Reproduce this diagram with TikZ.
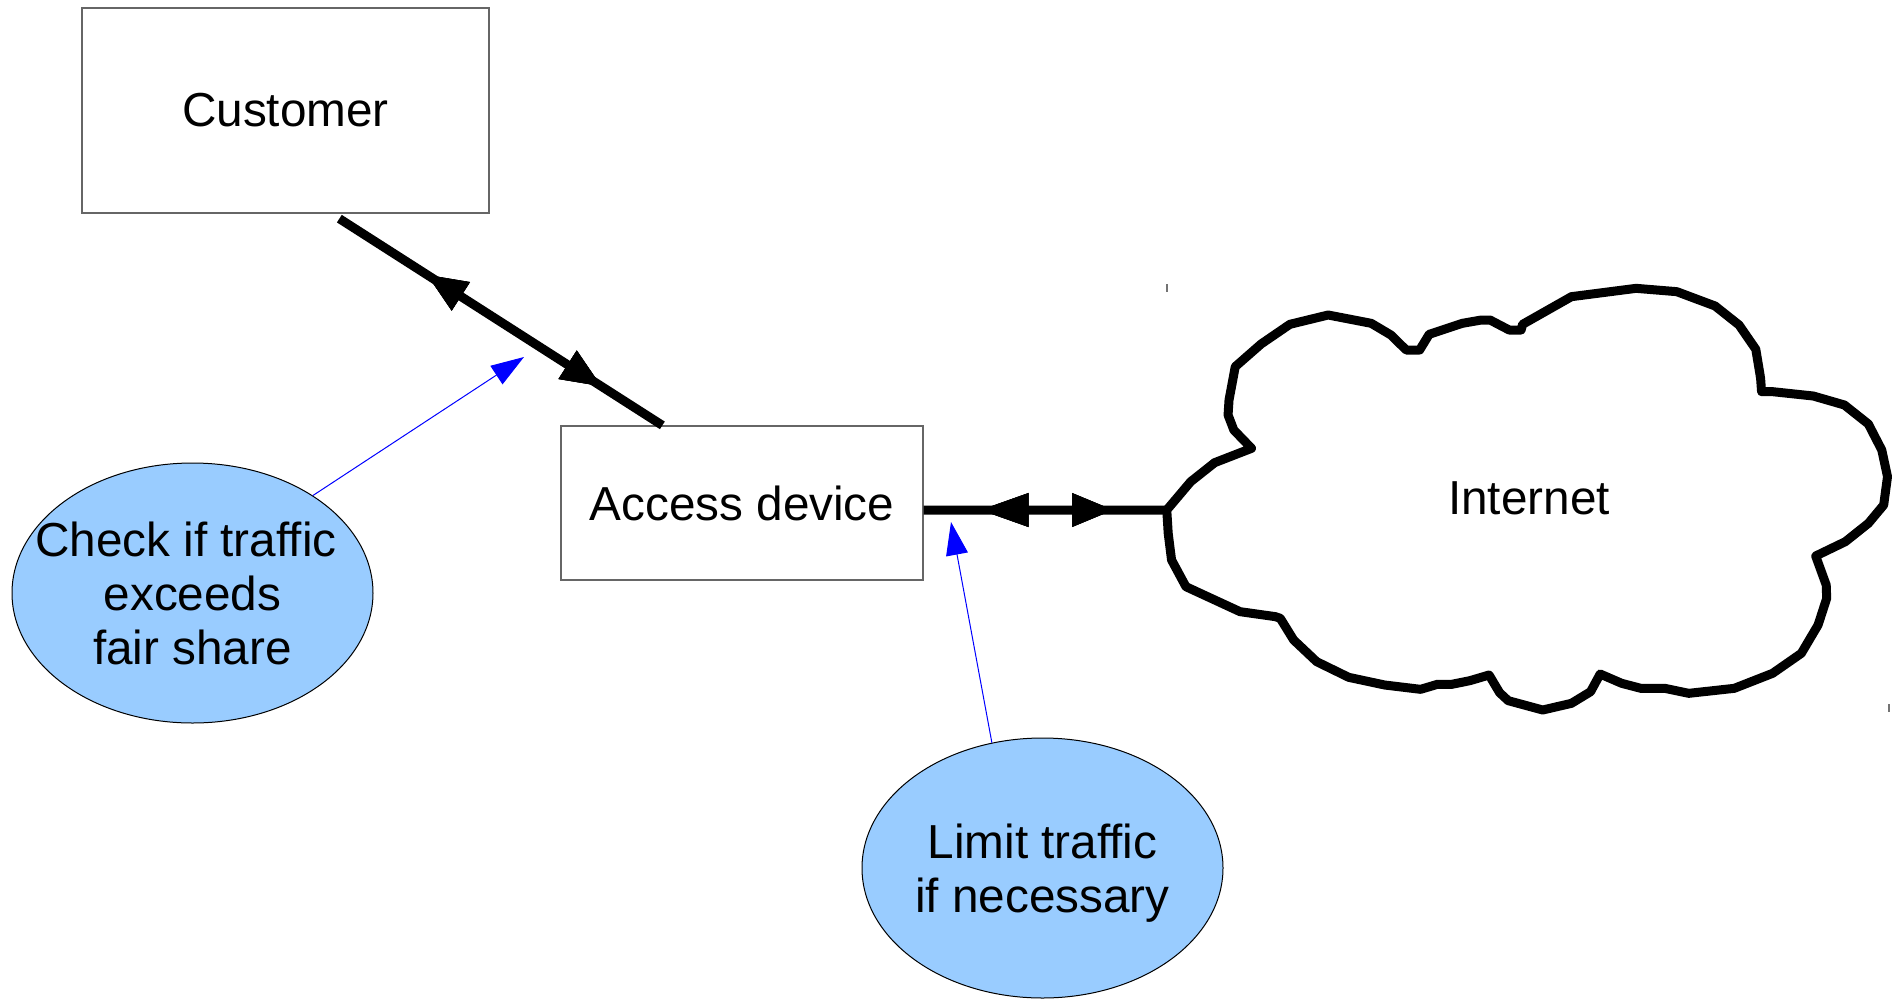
\documentclass[tikz,border=0pt]{standalone}
\usepackage{fontspec}
\setmainfont{Liberation Sans}
\usetikzlibrary{arrows.meta,decorations.markings,shapes.geometric}
\definecolor{bubble}{HTML}{99CCFF}
\definecolor{note}{RGB}{0,0,255}
\begin{document}
\begin{tikzpicture}[x=1pt,y=-1pt,
  every node/.style={font=\fontsize{47.7pt}{54pt}\selectfont, inner sep=0pt},
  boxnode/.style={draw=black!60, line width=1.3pt, rectangle},
  bubblenode/.style={draw=black, line width=1pt, fill=bubble, ellipse,
    inner xsep=-50pt, inner ysep=-30pt,
    minimum width=361pt, minimum height=260pt, align=center, text depth=0pt},
  thick link/.style={line width=9pt},
  note link/.style={draw=note, line width=1pt,
    -{Triangle[length=33pt,width=22pt]}, note},
  headfwd/.style 2 args={postaction={decorate}, decoration={markings,
    mark=at position #1 with {\arrow{Triangle[length=#2,width=34pt,line width=0.5pt]}}}},
  headback/.style 2 args={postaction={decorate}, decoration={markings,
    mark=at position #1 with {\arrowreversed{Triangle[length=#2,width=34pt,line width=0.5pt]}}}},
]
\useasboundingbox (0,0) rectangle (1901,999);

% boxes
\node[boxnode, minimum width=407pt, minimum height=205pt] (cust) at (285.5,110.5) {Customer};
\node[boxnode, minimum width=362pt, minimum height=154pt] (acc) at (742,503) {Access device};

% cloud outline
\begin{scope}[shift={(1150,270)}, xscale=0.4789, yscale=1/3]
  \draw[line width=9pt, line join=round, fill=white]
    (35,720) -- (85,635) -- (135,578) -- (212,535) -- (175,480) -- (163,435) --
    (165,390) -- (178,290) -- (232,222) -- (292,163) -- (372,135) -- (462,160) --
    (503,195) -- (535,240) -- (563,240) -- (583,193) -- (652,160) -- (692,150) --
    (710,150) -- (750,180) -- (775,180) -- (778,163) -- (880,80) -- (1015,55) --
    (1100,65) -- (1180,108) -- (1230,165) -- (1265,238) -- (1275,325) -- (1277,365) --
    (1300,365) -- (1385,378) -- (1450,405) -- (1500,462) -- (1528,540) -- (1540,620) --
    (1532,705) -- (1500,760) -- (1452,815) -- (1390,858) -- (1412,945) -- (1413,985) --
    (1395,1065) -- (1360,1150) -- (1300,1210) -- (1220,1255) -- (1125,1270) --
    (1075,1255) -- (1025,1255) -- (985,1240) -- (940,1212) -- (920,1265) --
    (880,1300) -- (820,1320) -- (748,1292) -- (730,1268) -- (708,1215) --
    (668,1232) -- (630,1243) -- (600,1243) -- (565,1258) -- (490,1245) --
    (415,1222) -- (348,1175) -- (300,1110) -- (272,1045) -- (262,1040) --
    (188,1025) -- (75,950) -- (45,870) -- (38,790) -- cycle;
  \coordinate (netjoin) at (35,720);
\end{scope}
\node (inet) at (1529,498) {Internet};

% small frame marks of the cloud
\draw[black!55, line width=1.3pt] (1167,284) -- (1167,292);
\draw[black!55, line width=1.3pt] (1889,704) -- (1889,712);

% thick two-way links
\draw[thick link, headback={0.272}{40pt}, headfwd={0.811}{40pt}]
  ([xshift=258pt,yshift=-5pt]cust.south west) -- ([xshift=102pt]acc.north west);
\draw[thick link, headback={0.234}{48pt}, headfwd={0.779}{41pt}]
  ([yshift=-7pt]acc.east) -- (netjoin);

% notes
\node[bubblenode] (chk) at (192.5,593) {Check if traffic\hspace*{0.28em}\\exceeds\\fair share};
\node[bubblenode] (lim) at (1042.5,868) {Limit traffic\\if necessary};
\coordinate (chktip) at (524,357);
\coordinate (limtip) at (951,522);
\draw[note link] (chk.39) -- (chktip);
\draw[note link] (lim.112) -- (limtip);
\end{tikzpicture}
\end{document}
